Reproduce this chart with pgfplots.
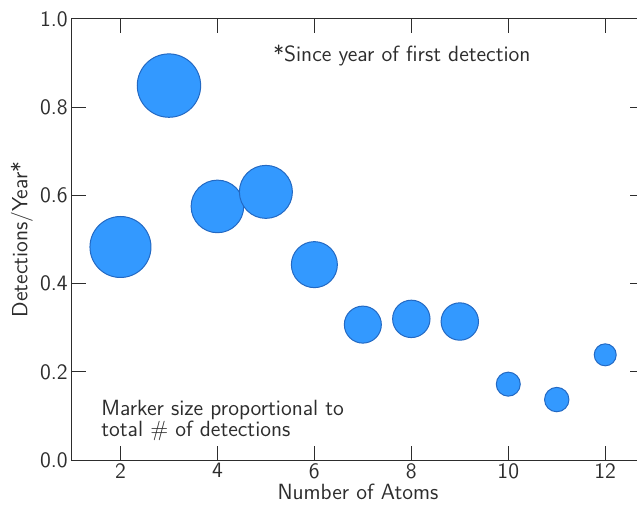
\documentclass[border=0pt]{standalone}
\usepackage{fontspec}
\renewcommand{\familydefault}{\sfdefault}
\usepackage{pgfplots}
\pgfplotsset{compat=1.18}
\definecolor{bub}{RGB}{51,153,255}
\definecolor{bubedge}{RGB}{35,105,195}
\definecolor{axc}{RGB}{45,45,45}
\pgfplotstableread{
x y r
2 0.483 15.25
3 0.849 15.85
4 0.575 13.15
5 0.608 13.25
6 0.443 11.5
7 0.307 9.25
8 0.320 9.35
9 0.314 9.35
10 0.172 6.0
11 0.137 6.1
12 0.2385 5.5
}\molecules
\begin{document}
\begin{tikzpicture}
\begin{axis}[
  scale only axis, width=286pt, height=220.5pt,
  xmin=1, xmax=12.8, ymin=0, ymax=1,
  xtick={2,4,6,8,10,12}, ytick={0,0.2,0.4,0.6,0.8,1},
  yticklabel style={/tikz/inner sep=2pt, /pgf/number format/.cd, fixed, fixed zerofill, precision=1},
  /pgf/number format/assume math mode=true,
  tick align=inside, major tick length=7pt,
  axis line style={axc, line width=0.5pt}, tick style={axc, line width=0.5pt},
  font=\fontsize{11}{13}\selectfont,
  ticklabel style={text=axc, font=\fontsize{11}{13}\selectfont},
  xticklabel style={inner sep=1.5pt},
  xlabel={Number of Atoms}, ylabel={Detections/Year*},
  xlabel style={at={([yshift=-16pt]axis description cs:0.5,0)}, anchor=center, text=axc},
  ylabel style={at={([xshift=-25pt]axis description cs:0,0.5)}, anchor=center, text=axc},
  clip=false,
]
\addplot[scatter, only marks, mark=*,
  visualization depends on={\thisrow{r} \as \rad},
  scatter/use mapped color={draw=bubedge, fill=bub},
  scatter/@pre marker code/.append style={/tikz/mark size=\rad},
  mark options={line width=0.5pt}] table[x=x, y=y] {\molecules};
\node[anchor=west, text=axc, inner sep=0pt, font=\fontsize{11}{13}\selectfont] at (axis cs:5.147,0.918) {*Since year of first detection};
\node[anchor=west, align=left, inner sep=0pt, text=axc, font=\fontsize{11}{10.5}\selectfont] at (axis cs:1.598,0.0907) {Marker size proportional to\\total \# of detections};
\end{axis}
\pgfresetboundingbox
\path[use as bounding box] ([shift={(-36pt,-22pt)}]current axis.south west) rectangle ([shift={(-3.5pt,9.5pt)}]current axis.north east);
\end{tikzpicture}
\end{document}
